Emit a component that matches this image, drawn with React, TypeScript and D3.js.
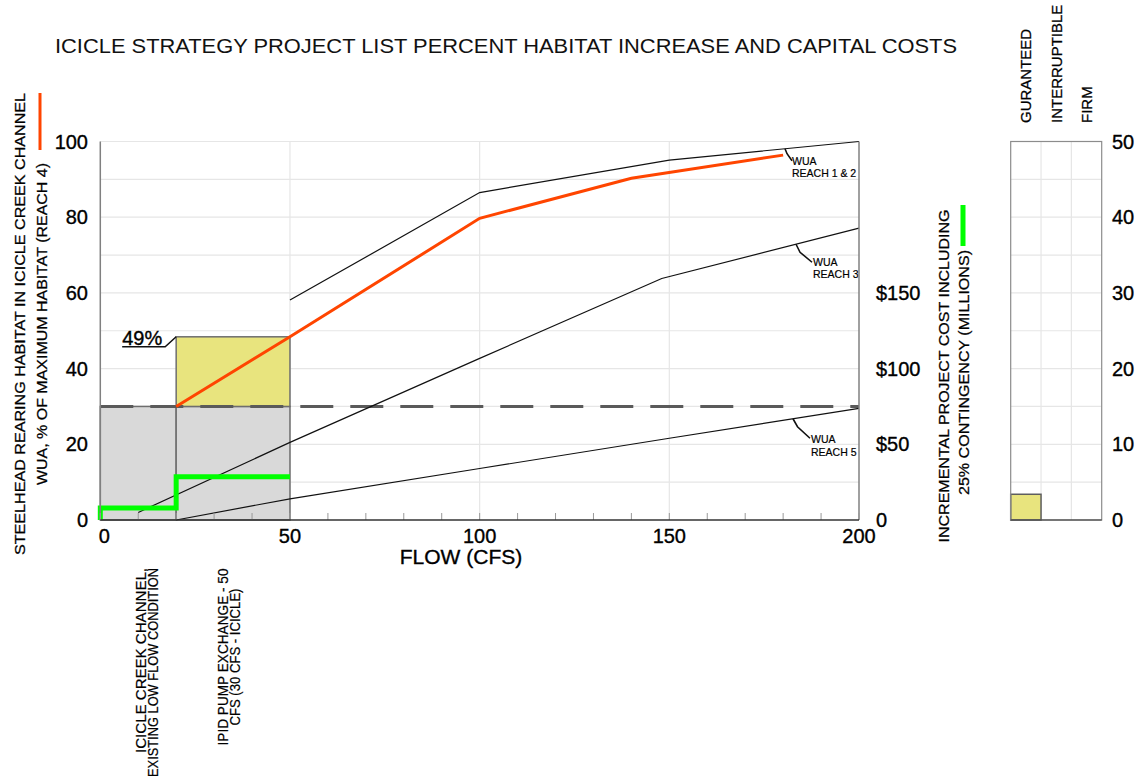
import * as d3 from "d3";

const FONT = "'Liberation Sans', Arial, Helvetica, sans-serif";

// main chart: flow (cfs) vs WUA (% of max habitat), cost on the right
const flowTicks = [0, 50, 100, 150, 200];
const wuaTicks = [0, 20, 40, 60, 80, 100];
const costTicks = [0, 50, 100, 150];
const costTickLabels = ["0", "$50", "$100", "$150"];

const reach4Flow = [20, 50, 100, 140, 180];
const reach4Wua = [30, 48.4, 79.7, 90.3, 96.4];
const reach12Flow = [50, 100, 150, 200];
const reach12Wua = [58.1, 86.5, 95.1, 100];
const reach3Flow = [10, 50, 100, 148, 200];
const reach3Wua = [2, 20.5, 42.7, 63.8, 77.1];
const reach5Flow = [20, 50, 100, 150, 200];
const reach5Wua = [0, 5.6, 13.6, 21.6, 29.5];

// incremental cost step (millions)
const costFlow = [0, 0, 20, 20, 50];
const costMillions = [0, 8, 8, 28.6, 28.6];

// habitat boxes: existing condition and pump exchange gain
const boxFlowStart = [0, 20, 20];
const boxFlowEnd = [20, 50, 50];
const boxWuaLow = [0, 0, 30];
const boxWuaHigh = [30, 30, 48.4];
const existingWua = 30;
const gainLabel = "49%";

const reachNames = ["REACH 1 & 2", "REACH 3", "REACH 5"];
const reachLabelFlow = [180.5, 183.4, 182.6];

const projectLines = [
  ["ICICLE CREEK CHANNEL,", "EXISTING LOW FLOW CONDITION"],
  ["IPID PUMP EXCHANGE - 50", "CFS (30 CFS - ICICLE)"],
];
const projectFlow = [10.6, 32.4];

// right panel: water supply type
const supplyTypes = ["GURANTEED", "INTERRUPTIBLE", "FIRM"];
const supplyValues = [3.4, 0, 0];
const supplyTicks = [0, 10, 20, 30, 40, 50];

const X0 = 100.3, X1 = 859, Y0 = 520, Y1 = 141.5;

export default function App() {
  const x = d3.scaleLinear().domain([0, 200]).range([X0, X1]);
  const y = d3.scaleLinear().domain([0, 100]).range([Y0, Y1]);
  const yc = d3.scaleLinear().domain([0, 250]).range([Y0, Y1]);
  const px = d3.scaleBand().domain(supplyTypes).range([1010.7, 1101.7]);
  const py = d3.scaleLinear().domain([0, 50]).range([Y0, Y1]);

  const line = d3.line<[number, number]>().x((d) => x(d[0])).y((d) => y(d[1]));
  const costLine = d3.line<[number, number]>().x((d) => x(d[0])).y((d) => yc(d[1]));
  const pts = (a: number[], b: number[]) => a.map((v, i) => [v, b[i]] as [number, number]);

  const reaches = [
    { f: reach12Flow, w: reach12Wua },
    { f: reach3Flow, w: reach3Wua },
    { f: reach5Flow, w: reach5Wua },
  ];
  // leader / label offsets from the anchor point on each curve
  const lead = [
    { mx: 2, my: 5, ex: 7, ey: 12, tx: 7, t1: 16, t2: 28.5 },
    { mx: 4, my: 8, ex: 16, ey: 18, tx: 17, t1: 21.5, t2: 34 },
    { mx: 4.5, my: 8, ex: 17, ey: 19.5, tx: 18, t1: 24.5, t2: 37 },
  ];

  const minor = d3.range(0, 201, 10);
  const wuaGrid = d3.range(10, 101, 10);
  const supplyGrid = d3.range(5, 51, 5);

  const bx = x(boxFlowStart[1]);
  const by = y(boxWuaHigh[2]);

  // slightly heavier text, like the plotted original
  const heavy = { fill: "#000", stroke: "#000", strokeWidth: 0.35 };

  return (
    <svg
      width={1147}
      height={780}
      style={{ position: "absolute", left: 0, top: 0, background: "#fff" }}
      fontFamily={FONT}
    >
      <text x={506} y={53} fontSize={20} textAnchor="middle" fill="#111" textLength={902} lengthAdjust="spacingAndGlyphs">
        ICICLE STRATEGY PROJECT LIST PERCENT HABITAT INCREASE AND CAPITAL COSTS
      </text>

      {/* grid */}
      {wuaGrid.map((t) => (
        <line key={"h" + t} x1={X0} x2={X1} y1={y(t)} y2={y(t)} stroke="#e6e6e6" strokeWidth={1.2} />
      ))}
      {flowTicks.slice(1, -1).map((t) => (
        <line key={"v" + t} x1={x(t)} x2={x(t)} y1={Y0} y2={Y1} stroke="#e6e6e6" strokeWidth={1.2} />
      ))}

      {/* habitat boxes */}
      {boxFlowStart.map((f, i) => (
        <rect
          key={"b" + i}
          x={x(f)}
          y={y(boxWuaHigh[i])}
          width={x(boxFlowEnd[i]) - x(f)}
          height={y(boxWuaLow[i]) - y(boxWuaHigh[i])}
          fill={boxWuaLow[i] > 0 ? "#e8e47e" : "#d9d9d9"}
          stroke="#6e6e6e"
          strokeWidth={1.5}
        />
      ))}

      <line
        x1={X0}
        x2={X1}
        y1={y(existingWua)}
        y2={y(existingWua)}
        stroke="#5a5a5a"
        strokeWidth={3}
        strokeDasharray="33,17"
      />

      {/* WUA curves */}
      {reaches.map((r, i) => (
        <path key={"r" + i} d={line(pts(r.f, r.w)) || ""} fill="none" stroke="#111" strokeWidth={1.2} />
      ))}
      <path d={line(pts(reach4Flow, reach4Wua)) || ""} fill="none" stroke="#ff4500" strokeWidth={3} />
      <path d={costLine(pts(costFlow, costMillions)) || ""} fill="none" stroke="#00ff00" strokeWidth={5} />

      {/* reach labels */}
      {reaches.map((r, i) => {
        const f = reachLabelFlow[i];
        const ax = x(f);
        const ay = y(d3.scaleLinear().domain(r.f).range(r.w)(f));
        const o = lead[i];
        return (
          <g key={"rl" + i} fontSize={10.5} fill="#000" stroke="#000" strokeWidth={0.2}>
            <polyline
              points={`${ax},${ay} ${ax + o.mx},${ay + o.my} ${ax + o.ex},${ay + o.ey}`}
              fill="none"
              stroke="#111"
              strokeWidth={1.6}
            />
            <text x={ax + o.tx} y={ay + o.t1}>WUA</text>
            <text x={ax + o.tx} y={ay + o.t2}>{reachNames[i]}</text>
          </g>
        );
      })}

      {/* 49% label */}
      <polyline
        points={`${bx - 54},${by + 10} ${bx - 11},${by + 10} ${bx},${by}`}
        fill="none"
        stroke="#111"
        strokeWidth={1.5}
      />
      <text x={bx - 54} y={by + 8} fontSize={20} {...heavy}>
        {gainLabel}
      </text>

      {/* axes frame */}
      <line x1={X0} x2={X0} y1={Y1} y2={Y0} stroke="#808080" strokeWidth={1.5} />
      <line x1={X1} x2={X1} y1={Y1} y2={Y0} stroke="#808080" strokeWidth={1.5} />
      {minor.map((t) => (
        <line key={"t" + t} x1={x(t)} x2={x(t)} y1={Y0} y2={Y0 - 7} stroke="#999" strokeWidth={1} />
      ))}
      <line x1={X0} x2={X1} y1={Y0} y2={Y0} stroke="#333" strokeWidth={1.5} />

      {wuaTicks.map((t) => (
        <text key={"yl" + t} x={88} y={y(t)} fontSize={20} textAnchor="end" dominantBaseline="central" {...heavy}>
          {t}
        </text>
      ))}
      {flowTicks.map((t) => (
        <text key={"xl" + t} x={x(t) + (t === 0 ? 4 : 0)} y={543} fontSize={20} textAnchor="middle" {...heavy}>
          {t}
        </text>
      ))}
      {costTicks.map((t, i) => (
        <text key={"cl" + t} x={876} y={yc(t)} fontSize={20} dominantBaseline="central" {...heavy}>
          {costTickLabels[i]}
        </text>
      ))}
      <text x={461} y={564} fontSize={21} textAnchor="middle" {...heavy}>
        FLOW (CFS)
      </text>

      {/* left title + legend */}
      <g fontSize={14.5} textAnchor="middle" dominantBaseline="central" {...heavy} strokeWidth={0.25}>
        <text transform="translate(20,324) rotate(-90)" textLength={462} lengthAdjust="spacingAndGlyphs">
          STEELHEAD REARING HABITAT IN ICICLE CREEK CHANNEL
        </text>
        <text transform="translate(41.5,324) rotate(-90)" textLength={322} lengthAdjust="spacingAndGlyphs">
          WUA, % OF MAXIMUM HABITAT (REACH 4)
        </text>
      </g>
      <line x1={40} x2={40} y1={93} y2={150} stroke="#ff4500" strokeWidth={3} />

      {/* right title + legend */}
      <g fontSize={15} textAnchor="middle" dominantBaseline="central" {...heavy} strokeWidth={0.25}>
        <text transform="translate(943,376) rotate(-90)" textLength={333} lengthAdjust="spacingAndGlyphs">
          INCREMENTAL PROJECT COST INCLUDING
        </text>
        <text transform="translate(963,372.5) rotate(-90)" textLength={245} lengthAdjust="spacingAndGlyphs">
          25% CONTINGENCY (MILLIONS)
        </text>
      </g>
      <line x1={963} x2={963} y1={205} y2={246} stroke="#00ff00" strokeWidth={5} />

      {/* project labels under the axis */}
      <g fontSize={14} dominantBaseline="central" {...heavy} strokeWidth={0.2}>
        {projectLines.map((lines, i) =>
          lines.map((s, j) => (
            <text
              key={"p" + i + j}
              transform={`translate(${x(projectFlow[i]) + j * 12.2},${i === 0 ? 568 : 657}) rotate(-90)`}
              textAnchor={i === 0 ? "end" : "middle"}
              textLength={[[185, 209], [177, 137]][i][j]}
              lengthAdjust="spacingAndGlyphs"
            >
              {s}
            </text>
          ))
        )}
      </g>

      {/* right panel */}
      {supplyGrid.map((t) => (
        <line key={"sg" + t} x1={1010.7} x2={1101.7} y1={py(t)} y2={py(t)} stroke="#e6e6e6" strokeWidth={1.2} />
      ))}
      {supplyTypes.slice(1).map((s) => (
        <line key={"sv" + s} x1={px(s)} x2={px(s)} y1={Y1} y2={Y0} stroke="#e6e6e6" strokeWidth={1.2} />
      ))}
      {supplyTypes.map((s, i) =>
        supplyValues[i] > 0 ? (
          <rect
            key={"sb" + s}
            x={px(s)}
            y={py(supplyValues[i])}
            width={px.bandwidth()}
            height={Y0 - py(supplyValues[i])}
            fill="#e8e47e"
            stroke="#5e5e5e"
            strokeWidth={1.5}
          />
        ) : null
      )}
      <rect x={1010.7} y={Y1} width={91} height={Y0 - Y1} fill="none" stroke="#8c8c8c" strokeWidth={1.2} />
      <line x1={1010.7} x2={1101.7} y1={Y0} y2={Y0} stroke="#333" strokeWidth={1.2} />
      {supplyTicks.map((t) => (
        <text key={"st" + t} x={1112} y={py(t)} fontSize={20} dominantBaseline="central" {...heavy}>
          {t}
        </text>
      ))}
      {supplyTypes.map((s) => (
        <text
          key={"sh" + s}
          transform={`translate(${(px(s) || 0) + px.bandwidth() / 2},123) rotate(-90)`}
          fontSize={15}
          dominantBaseline="central"
          {...heavy}
          strokeWidth={0.25}
        >
          {s}
        </text>
      ))}
    </svg>
  );
}
